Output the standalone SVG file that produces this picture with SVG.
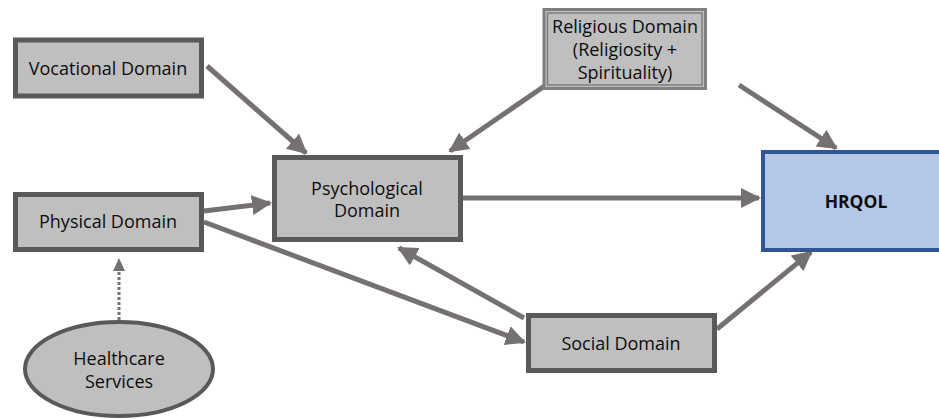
<svg xmlns="http://www.w3.org/2000/svg" width="939" height="419" viewBox="0 0 939 419">
<style>
.box{fill:#BFBFBF;stroke:#595959;stroke-width:5}
.t{font-family:"Open Sans","Liberation Sans",sans-serif;font-size:18px;fill:#0d0d0d;text-anchor:middle}
.c{stroke:#767171;stroke-width:5;fill:none}
</style>
<defs>
<marker id="ah" viewBox="0 0 10 10" refX="9" refY="5" markerWidth="4" markerHeight="4" orient="auto" markerUnits="strokeWidth">
<path d="M0,0 L10,5 L0,10 z" fill="#767171"/>
</marker>
</defs>
<rect width="939" height="419" fill="#fff"/>
<g id="connectors">
<line class="c" x1="207" y1="66" x2="306" y2="153" marker-end="url(#ah)"/>
<line class="c" x1="204" y1="211" x2="270" y2="203" marker-end="url(#ah)"/>
<line class="c" x1="204" y1="222" x2="524" y2="342" marker-end="url(#ah)"/>
<line class="c" x1="546" y1="85" x2="450" y2="151" marker-end="url(#ah)"/>
<line class="c" x1="739" y1="85" x2="836" y2="148" marker-end="url(#ah)"/>
<line class="c" x1="463" y1="198" x2="759" y2="198" marker-end="url(#ah)"/>
<line class="c" x1="524" y1="318" x2="399" y2="248" marker-end="url(#ah)"/>
<line class="c" x1="717" y1="329" x2="811" y2="252" marker-end="url(#ah)"/>
<line x1="119" y1="320" x2="119" y2="272" stroke="#767171" stroke-width="3" stroke-dasharray="3,2"/>
<path d="M113,271 L125,271 L119,258 z" fill="#767171"/>
</g>
<g id="vocational">
<rect class="box" x="15.5" y="40" width="186" height="56"/>
<text class="t" x="108" y="75">Vocational Domain</text>
</g>
<g id="physical">
<rect class="box" x="15.5" y="194.5" width="186" height="55"/>
<text class="t" x="108" y="228">Physical Domain</text>
</g>
<g id="psychological">
<rect class="box" x="274.5" y="157.5" width="186" height="82"/>
<text class="t" x="367" y="195">Psychological</text>
<text class="t" x="367" y="217">Domain</text>
</g>
<g id="religious">
<rect x="544" y="9.5" width="161.5" height="79" fill="#BFBFBF" stroke="#7F7F7F" stroke-width="3"/>
<rect x="547.5" y="13" width="154.5" height="72" fill="none" stroke="#7F7F7F" stroke-width="1.5"/>
<text class="t" x="625" y="33">Religious Domain</text>
<text class="t" x="625" y="56">(Religiosity +</text>
<text class="t" x="625" y="79">Spirituality)</text>
</g>
<g id="hrqol">
<rect x="763" y="152" width="190" height="98" fill="#B4C7E7" stroke="#2F5597" stroke-width="4"/>
<text x="856" y="208" font-family="'Open Sans','Liberation Sans',sans-serif" font-size="17.5" font-weight="bold" fill="#0d0d0d" text-anchor="middle">HRQOL</text>
</g>
<g id="social">
<rect class="box" x="528.5" y="315.5" width="186" height="55"/>
<text class="t" x="621" y="350">Social Domain</text>
</g>
<g id="healthcare">
<ellipse cx="119" cy="369" rx="94" ry="47" fill="#BFBFBF" stroke="#595959" stroke-width="4"/>
<text class="t" x="119" y="365">Healthcare</text>
<text class="t" x="119" y="388">Services</text>
</g>
</svg>
